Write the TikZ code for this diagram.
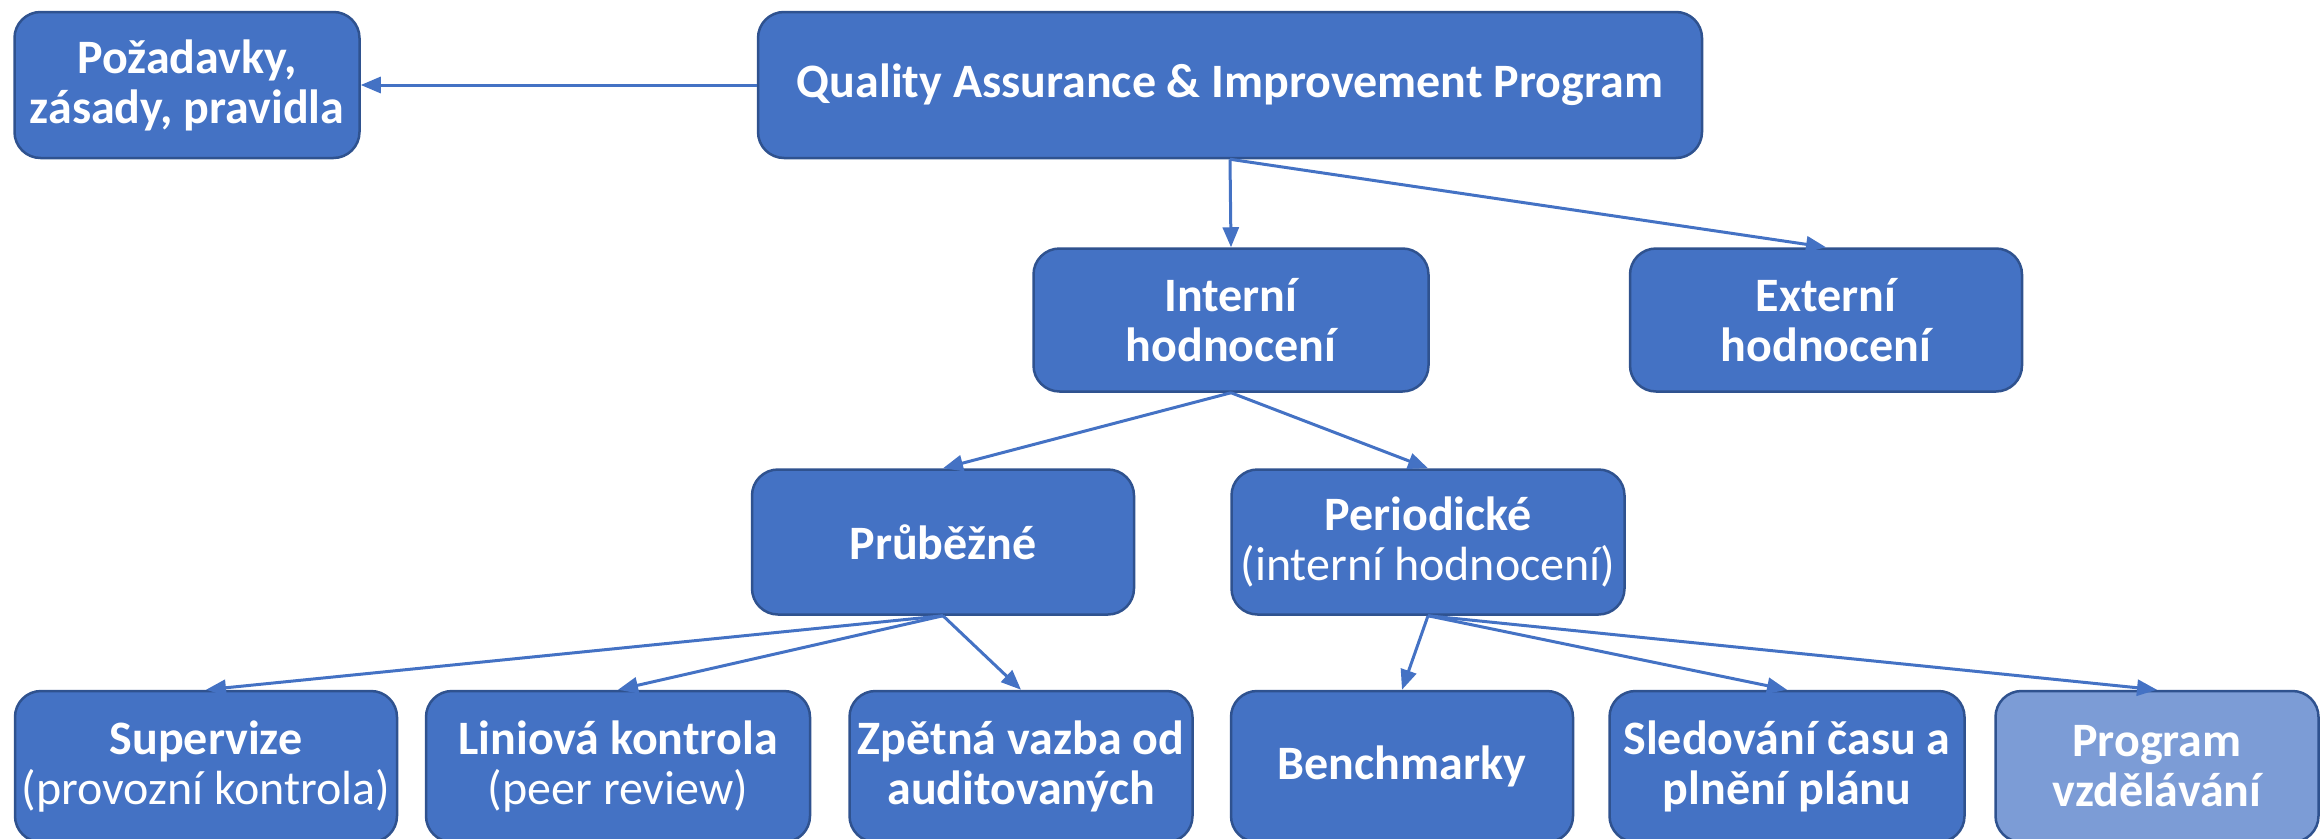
\documentclass[tikz,border=0pt]{standalone}
\usepackage{fontspec}
\setmainfont{Carlito}
\usetikzlibrary{arrows.meta}
\definecolor{boxblue}{HTML}{4472C4}
\definecolor{boxedge}{HTML}{2F528F}
\definecolor{lightblue}{HTML}{7C9CD6}
\tikzset{
  box/.style={draw=boxedge, line width=2.5pt, fill=boxblue, rounded corners=26pt,
    text=white, align=center, font=\fontsize{48}{50}\selectfont\bfseries, inner sep=0pt},
  conn/.style={draw=boxblue, line width=3pt, -{Triangle[length=20pt,width=16pt]}},
}
\begin{document}
\begin{tikzpicture}[x=1pt,y=-1pt]
\useasboundingbox (0,0) rectangle (2321,838);
\node[box, minimum width=345, minimum height=146] (poz) at (187,85) {Požadavky,\\zásady, pravidla};
\node[box, minimum width=944, minimum height=146] (qaip) at (1230,85) {Quality Assurance \& Improvement Program};
\node[box, minimum width=395, minimum height=143] (int) at (1231,320) {Interní\\hodnocení};
\node[box, minimum width=392, minimum height=143] (ext) at (1826,320) {Externí\\hodnocení};
\node[box, minimum width=382, minimum height=145] (prub) at (943,542) {Průběžné};
\node[box, minimum width=393, minimum height=145] (per) at (1428,542) {Periodické\\\mdseries(interní hodnocení)};
\node[box, minimum width=382, minimum height=151] (sup) at (206,766.5) {Supervize\\\mdseries(provozní kontrola)};
\node[box, minimum width=384, minimum height=151] (lin) at (618,766.5) {Liniová kontrola\\\mdseries(peer review)};
\node[box, minimum width=343, minimum height=151] (zpe) at (1021,766.5) {Zpětná vazba od\\auditovaných};
\node[box, minimum width=342, minimum height=151] (ben) at (1402,766.5) {Benchmarky};
\node[box, minimum width=355, minimum height=151] (sle) at (1787,766.5) {Sledování času a\\plnění plánu};
\node[box, fill=lightblue, minimum width=323, minimum height=151] (pro) at (2157,766.5) {Program\\vzdělávání};
\draw[conn] (qaip.west) -- (poz.east);
\draw[conn] (qaip.south) -- (int.north);
\draw[conn] (qaip.south) -- (ext.north);
\draw[conn] (int.south) -- (prub.north);
\draw[conn] (int.south) -- (per.north);
\draw[conn] (prub.south) -- (sup.north);
\draw[conn] (prub.south) -- (lin.north);
\draw[conn] (prub.south) -- (zpe.north);
\draw[conn] (per.south) -- (ben.north);
\draw[conn] (per.south) -- (sle.north);
\draw[conn] (per.south) -- (pro.north);
\end{tikzpicture}
\end{document}
